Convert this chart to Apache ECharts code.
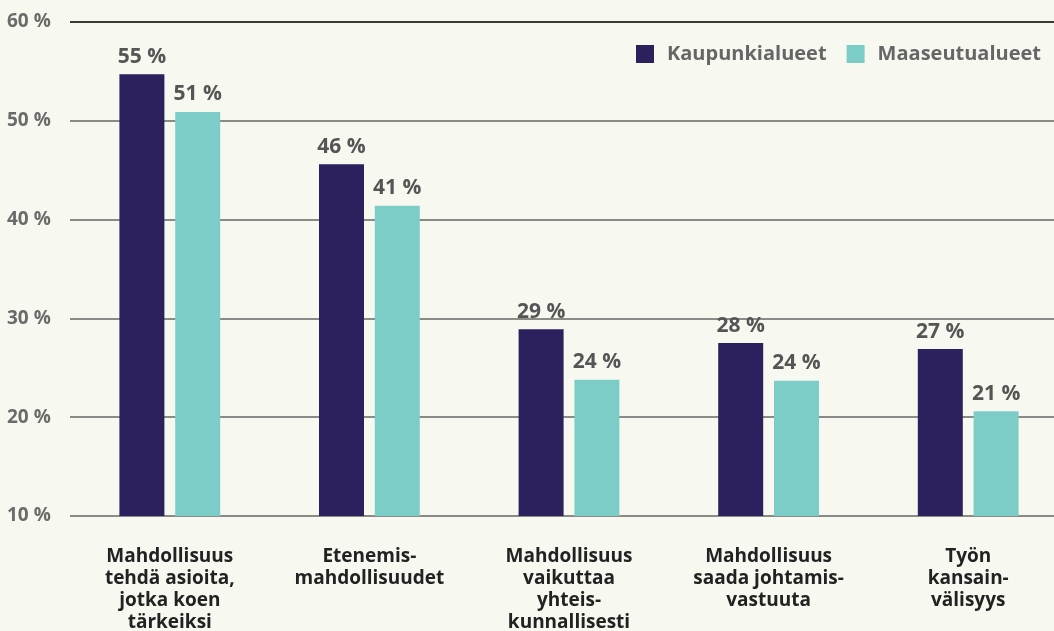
<!DOCTYPE html>
<html>
<head>
<meta charset="utf-8">
<script src="https://cdn.jsdelivr.net/npm/echarts@6/dist/echarts.min.js"></script>
<style>
  html, body { margin: 0; padding: 0; background: #f7f9f0; }
  #chart { width: 1054px; height: 631px; }
</style>
</head>
<body>
<div id="chart"></div>
<script>
// data
var categories = [
  "Mahdollisuus\ntehdä asioita,\njotka koen\ntärkeiksi",
  "Etenemis-\nmahdollisuudet",
  "Mahdollisuus\nvaikuttaa\nyhteis-\nkunnallisesti",
  "Mahdollisuus\nsaada johtamis-\nvastuuta",
  "Työn\nkansain-\nvälisyys"
];
var seriesNames = ["Kaupunkialueet", "Maaseutualueet"];
var urban = [54.7, 45.6, 28.9, 27.5, 26.9];
var rural = [50.9, 41.4, 23.8, 23.7, 20.6];
var yTicks = [10, 20, 30, 40, 50, 60];

var myChart = echarts.init(document.getElementById("chart"));
var font = "'Open Sans', Lato, sans-serif";

var valueLabel = {
  show: true,
  position: "top",
  distance: 7,
  color: "#555",
  fontFamily: font,
  fontWeight: "bold",
  fontSize: 21,
  formatter: function (p) {
    return Math.round(p.value) + " %";
  }
};

var options = {
  backgroundColor: "#f7f9f0",
  animation: false,
  legend: {
    right: 8,
    top: 39,
    itemWidth: 18,
    itemHeight: 18,
    itemGap: 20,
    icon: "rect",
    textStyle: {
      color: "#666",
      fontFamily: font,
      fontWeight: "bold",
      fontSize: 20,
      padding: [0, 0, 0, 8]
    },
    data: seriesNames
  },
  grid: {
    top: 22,
    left: 70,
    width: 998,
    height: 494,
    outerBoundsMode: "none"
  },
  xAxis: {
    type: "category",
    data: categories,
    axisLine: { show: false },
    axisTick: { show: false },
    axisLabel: {
      interval: 0,
      margin: 30,
      color: "#222",
      fontFamily: font,
      fontWeight: "bold",
      fontSize: 19,
      lineHeight: 22
    }
  },
  yAxis: {
    type: "value",
    min: yTicks[0],
    max: yTicks[yTicks.length - 1],
    interval: 10,
    axisLine: { show: false },
    axisTick: { show: false },
    axisLabel: {
      align: "left",
      margin: 63,
      color: "#6b6b6b",
      fontFamily: font,
      fontWeight: "bold",
      fontSize: 19,
      formatter: function (v) { return v + " %"; }
    },
    splitLine: {
      lineStyle: {
        width: 2,
        color: ["#8a8a86", "#8a8a86", "#8a8a86", "#8a8a86", "#8a8a86", "#3a3a36"]
      }
    }
  },
  series: [
    {
      name: seriesNames[0],
      type: "bar",
      data: urban,
      barWidth: 45,
      barGap: "24%",
      itemStyle: { color: "#2c215c" },
      label: valueLabel
    },
    {
      name: seriesNames[1],
      type: "bar",
      data: rural,
      barWidth: 45,
      itemStyle: { color: "#7ccdc8" },
      label: valueLabel
    }
  ]
};

myChart.setOption(options);
window.addEventListener("resize", function () {
  myChart.resize();
});
</script>
</body>
</html>
